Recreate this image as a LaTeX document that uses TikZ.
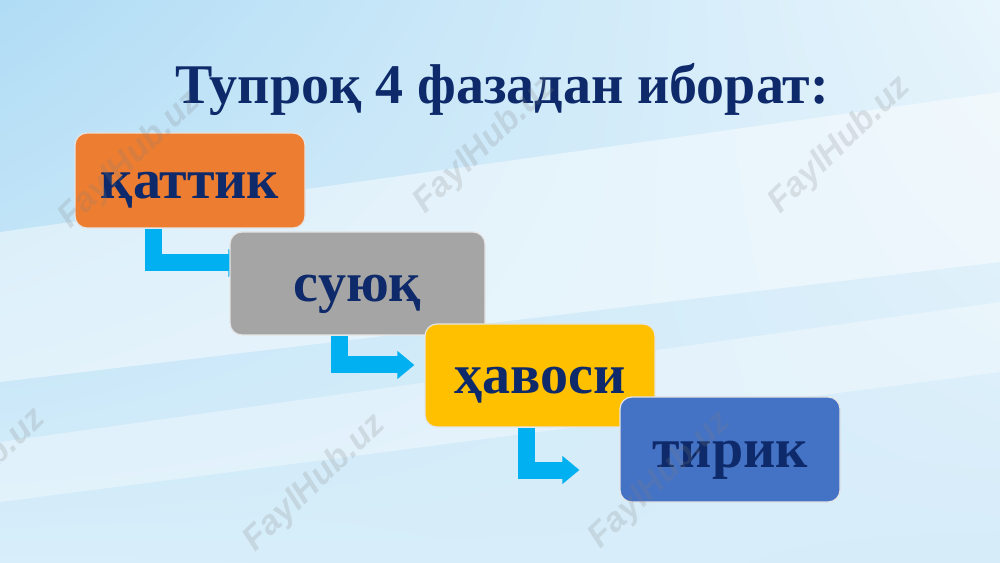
\documentclass[tikz,border=0pt]{standalone}
\usepackage{fontspec}
\setmainfont{Liberation Serif}
\setsansfont{Liberation Sans}
\usetikzlibrary{shapes,arrows.meta,backgrounds,shadings}
\definecolor{navy}{HTML}{0E2A6A}
\definecolor{orangebox}{HTML}{ED7D31}
\definecolor{graybox}{HTML}{A5A5A5}
\definecolor{goldbox}{HTML}{FFC000}
\definecolor{bluebox}{HTML}{4472C4}
\definecolor{cyanarrow}{HTML}{00B0F0}
\definecolor{bgul}{HTML}{B0DCF5}
\definecolor{bgur}{HTML}{E8F5FC}
\definecolor{bgll}{HTML}{D8EEFA}
\definecolor{bglr}{HTML}{D6ECF9}
\pgfdeclarelayer{arrows}
\pgfsetlayers{background,arrows,main}
\tikzstyle{block} = [rectangle, draw=white!80!gray, line width=1.2pt,
rounded corners=12pt, text=navy, text height=36pt, text depth=0pt,
font=\bfseries\fontsize{56}{66}\selectfont]
\tikzstyle{line} = [draw=cyanarrow, line width=17pt, line join=miter,
-{Triangle[width=27pt,length=17pt]}]
\tikzstyle{wmark} = [text=gray, opacity=0.2, rotate=44,
font=\sffamily\bfseries\itshape\fontsize{34}{40}\selectfont]

\begin{document}
\begin{tikzpicture}[x=1pt, y=1pt]
	\useasboundingbox (0,0) rectangle (1000,562);
	% Background
	\begin{pgfonlayer}{background}
	\shade[upper left=bgul, upper right=bgur, lower left=bgll, lower right=bglr]
	(0,0) rectangle (1000,562);
	\fill[white, opacity=0.45] (0,330) -- (1000,470) -- (1000,300) -- (0,180) -- cycle;
	\fill[white, opacity=0.35] (0,120) -- (1000,260) -- (1000,190) -- (0,60) -- cycle;
	\end{pgfonlayer}
	% Title
	\node [text=navy, font=\bfseries\fontsize{56}{66}\selectfont, anchor=base] (title) at (502,458) {Тупроқ 4 фазадан иборат:};
	% Place nodes
	\node [block, fill=orangebox, minimum width=230pt, minimum height=95pt] (kattik) at (190,381.5) {қаттик};
	\node [block, fill=graybox, minimum width=255pt, minimum height=103pt] (suyuk) at (357.5,278.5) {суюқ};
	\node [block, fill=goldbox, minimum width=230pt, minimum height=103pt] (havosi) at (540,186.5) {ҳавоси};
	\node [block, fill=bluebox, minimum width=220pt, minimum height=105pt] (tirik) at (730,112.5) {тирик};
	% Bent arrows
	\begin{pgfonlayer}{arrows}
	\path [line] ([xshift=79pt]kattik.south west) |- ([xshift=16pt,yshift=20.5pt]suyuk.west);
	\path [line] ([xshift=110pt]suyuk.south west) |- ([xshift=-10pt,yshift=10.5pt]havosi.west);
	\path [line] ([xshift=102pt]havosi.south west) |- ([xshift=-40pt,yshift=-20.5pt]tirik.west);
	\end{pgfonlayer}
	% Watermarks
	\node [wmark] (wm1) at (130,402) {FaylHub.uz};
	\node [wmark] (wm2) at (485,417) {FaylHub.uz};
	\node [wmark] (wm3) at (840,417) {FaylHub.uz};
	\node [wmark] (wm4) at (-25,85) {FaylHub.uz};
	\node [wmark] (wm5) at (315,79) {FaylHub.uz};
	\node [wmark] (wm6) at (660,82) {FaylHub.uz};
\end{tikzpicture}
\end{document}
